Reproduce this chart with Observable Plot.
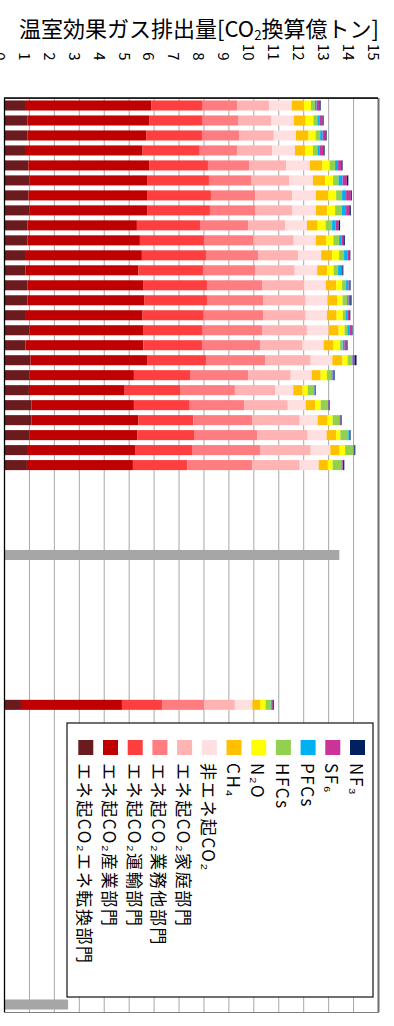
<!DOCTYPE html>
<html><head><meta charset="utf-8">
<script src="https://cdn.jsdelivr.net/npm/d3@7"></script>
<script src="https://cdn.jsdelivr.net/npm/@observablehq/plot@0.6"></script>
<style>
body{margin:0;background:#fff;}
#wrap{position:relative;width:394px;height:1026px;font-family:"Noto Sans CJK JP",sans-serif;overflow:hidden;}
#title{height:40px;box-sizing:border-box;padding-top:16px;padding-left:4px;font-size:22px;line-height:22px;text-align:center;white-space:nowrap;color:#000;overflow:visible;}
#title sub{font-size:0.6em;vertical-align:-0.25em;line-height:0;}
</style></head><body>
<div id="wrap"><div id="title">温室効果ガス排出量[CO<sub>2</sub>換算億トン]</div><div id="chart"></div></div>
<script>
const years = d3.range(1990, 2015);
const series = ["エネ起CO₂エネ転換部門","エネ起CO₂産業部門","エネ起CO₂運輸部門","エネ起CO₂業務他部門","エネ起CO₂家庭部門","非エネ起CO₂","CH₄","N₂O","HFCs","PFCs","SF₆","NF₃"];
const colors = ["#6b1a1e","#c00000","#ff3f3f","#ff7c80","#ffb3b3","#ffdfe0","#ffc000","#ffff00","#92d050","#00b0f0","#cc3399","#002060"];

// 億トン, 1990..2014
const tenkan = [0.88,0.94,0.94,0.88,0.98,1.02,0.98,1.02,0.94,0.94,0.88,0.86,0.94,0.94,0.88,1.02,0.86,1.06,1.03,1.00,1.10,1.10,1.03,0.96,0.92];
const sangyo = [5.02,4.88,4.76,4.68,4.84,4.74,4.78,4.72,4.39,4.51,4.65,4.53,4.66,4.68,4.68,4.58,4.73,4.70,4.18,3.84,4.11,4.29,4.32,4.32,4.25];
const unyu   = [2.07,2.15,2.24,2.29,2.36,2.46,2.54,2.52,2.53,2.57,2.57,2.59,2.54,2.52,2.45,2.37,2.35,2.34,2.25,2.22,2.24,2.20,2.27,2.26,2.18];
const gyomu  = [1.38,1.44,1.49,1.50,1.66,1.71,1.77,1.83,1.93,1.99,2.09,2.09,2.21,2.25,2.38,2.40,2.35,2.38,2.33,2.20,2.18,2.36,2.53,2.75,2.60];
const katei  = [1.29,1.30,1.39,1.40,1.48,1.50,1.48,1.46,1.48,1.61,1.60,1.59,1.70,1.71,1.71,1.78,1.69,1.82,1.71,1.61,1.75,1.91,2.03,2.01,1.91];
const hiene  = [0.90,0.92,0.89,0.92,0.95,0.96,0.96,0.96,0.88,0.89,0.93,0.90,0.86,0.87,0.85,0.87,0.84,0.87,0.84,0.73,0.72,0.72,0.76,0.79,0.76];
const ch4    = [0.49,0.47,0.50,0.42,0.49,0.49,0.49,0.45,0.43,0.41,0.44,0.40,0.41,0.39,0.39,0.40,0.40,0.40,0.36,0.38,0.39,0.40,0.38,0.37,0.37];
const n2o    = [0.28,0.31,0.29,0.30,0.30,0.32,0.32,0.32,0.32,0.29,0.28,0.26,0.24,0.22,0.25,0.24,0.26,0.21,0.25,0.20,0.21,0.20,0.17,0.22,0.19];
const hfcs   = [0.16,0.16,0.18,0.18,0.22,0.22,0.24,0.26,0.26,0.23,0.20,0.18,0.16,0.18,0.11,0.11,0.10,0.16,0.18,0.23,0.28,0.27,0.32,0.33,0.35];
const pfcs   = [0.07,0.08,0.10,0.08,0.12,0.16,0.16,0.18,0.14,0.09,0.13,0.12,0.10,0.06,0.09,0.08,0.07,0.04,0.05,0.05,0.03,0.03,0.03,0.03,0.04];
const sf6    = [0.11,0.13,0.11,0.16,0.13,0.17,0.19,0.13,0.12,0.08,0.08,0.05,0.04,0.07,0.06,0.09,0.09,0.08,0.04,0.03,0.02,0.02,0.02,0.01,0.03];
const nf3    = [0.05,0.04,0.05,0.05,0.05,0.06,0.04,0.06,0.06,0.06,0.04,0.04,0.04,0.05,0.04,0.04,0.04,0.08,0.04,0.02,0.03,0.04,0.04,0.04,0.05];
const seriesValues = [tenkan,sangyo,unyu,gyomu,katei,hiene,ch4,n2o,hfcs,pfcs,sf6,nf3];

const year2030 = 2030;
const values2030 = [0.72,4.01,1.63,1.66,1.24,0.70,0.31,0.22,0.21,0.04,0.04,0.04];

const targetYears = [2020, 2050];
const targetValues = [13.45, 2.57];

const tickValues = d3.range(0, 16);
const allYears = d3.range(1990, 2051);

const rows = [];
years.forEach((y, i) => series.forEach((s, j) => rows.push({year: y, series: s, value: seriesValues[j][i]})));
series.forEach((s, j) => rows.push({year: year2030, series: s, value: values2030[j]}));
const targets = targetYears.map((y, i) => ({year: y, value: targetValues[i]}));

const W = 394, H = 986, mT = 58, mB = 14, mL = 4, mR = 16;
const font = '"Noto Sans CJK JP", sans-serif';

const chart = Plot.plot({
  width: W, height: H, marginTop: mT, marginBottom: mB, marginLeft: mL, marginRight: mR,
  style: {fontFamily: font, background: "white", overflow: "visible", color: "black"},
  x: {domain: [0, 15], axis: null},
  y: {type: "band", domain: allYears, paddingInner: 0.33, paddingOuter: 0.165, axis: null},
  color: {domain: series, range: colors},
  marks: [
    Plot.ruleX(d3.range(1, 15), {stroke: "#a8a8a8", strokeWidth: 1}),
    Plot.barX(rows, {y: "year", x: "value", fill: "series"}),
    Plot.barX(targets, {y: "year", x1: 0, x2: "value", fill: "#a6a6a6"}),
    Plot.frame({stroke: "#7f7f7f", strokeWidth: 1}),
    Plot.ruleX([15], {stroke: "#6e6e6e", strokeWidth: 2}),
    Plot.ruleX([0], {stroke: "black", strokeWidth: 1.3}),
    Plot.text(tickValues, {x: d => d, text: d => String(d), frameAnchor: "top", dy: -38, rotate: 90, textAnchor: "end", fontSize: 15, fill: "black"})
  ]
});
document.getElementById("chart").appendChild(chart);

const svg = d3.select(chart);
// top border
svg.append("line").attr("x1", mL).attr("x2", W - mR).attr("y1", mT).attr("y2", mT).attr("stroke", "black").attr("stroke-width", 1.3);

// legend
const lg = svg.append("g").attr("font-family", font);
const box = {x: 67, y: 683, w: 306, h: 274};
lg.append("rect").attr("x", box.x).attr("y", box.y).attr("width", box.w).attr("height", box.h)
  .attr("fill", "white").attr("stroke", "#222").attr("stroke-width", 1.3);
const step = 24.7, cx0 = 85.8;
series.forEach((s, i) => {
  const cx = cx0 + i * step;
  lg.append("rect").attr("x", cx - 7.5).attr("y", 700).attr("width", 15).attr("height", 15).attr("fill", colors[i]);
  lg.append("text").attr("transform", `translate(${cx},723) rotate(90)`)
    .attr("text-anchor", "start").attr("dominant-baseline", "central")
    .attr("font-size", 17).attr("letter-spacing", 1.6).attr("fill", "black").text(s);
});
</script>
</body></html>
